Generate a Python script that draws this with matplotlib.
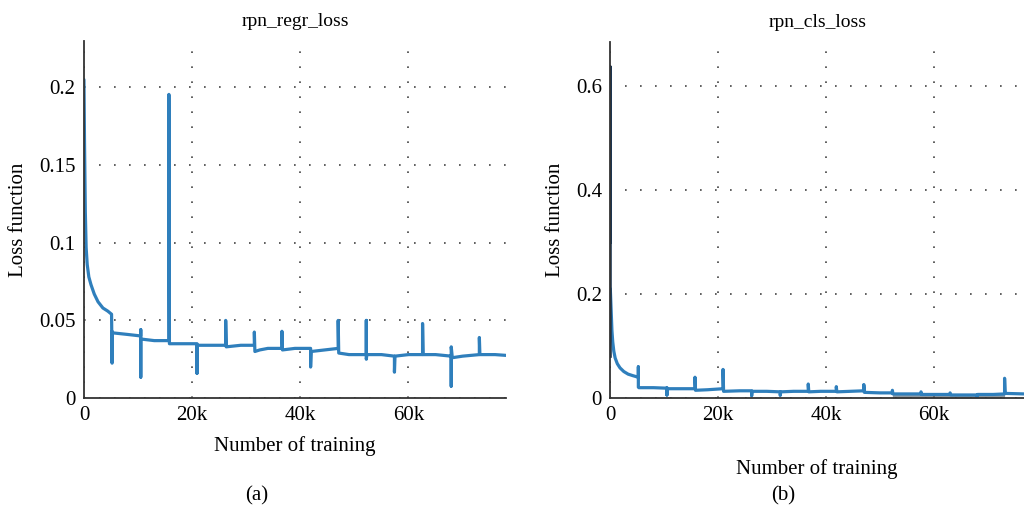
# Training loss curves: rpn_regr_loss and rpn_cls_loss

import matplotlib.pyplot as plt

# -----------------------------------------------
# Data (iterations, loss)
# -----------------------------------------------

regr_steps = [0, 100, 250, 400, 600, 900, 1300, 1900, 2600, 3500, 4400, 5100,
              5200, 5200, 5200, 5300, 8000, 10500,
              10500, 10500, 10500, 10600, 13000, 15700,
              15700, 15800, 18000, 20900,
              20900, 20900, 21000, 24000, 26200,
              26200, 26300, 29000, 31500,
              31500, 31600, 32500, 34000, 36600,
              36600, 36700, 39000, 41900,
              41900, 42000, 44500, 47000,
              47000, 47100, 49000, 52200,
              52200, 52200, 52300, 55000, 57400,
              57400, 57500, 60000, 62600,
              62600, 62700, 65000, 67900,
              67900, 67900, 68100, 70000, 73100,
              73100, 73200, 76000, 78000]
regr_loss = [0.205, 0.165, 0.120, 0.097, 0.086, 0.078, 0.073, 0.067, 0.062, 0.058, 0.056, 0.054,
             0.0225, 0.043, 0.043, 0.042, 0.041, 0.040,
             0.044, 0.0135, 0.038, 0.038, 0.037, 0.037,
             0.1955, 0.035, 0.035, 0.035,
             0.016, 0.034, 0.034, 0.034, 0.034,
             0.050, 0.033, 0.034, 0.034,
             0.0425, 0.030, 0.031, 0.032, 0.032,
             0.043, 0.031, 0.032, 0.032,
             0.020, 0.030, 0.031, 0.032,
             0.050, 0.029, 0.028, 0.028,
             0.050, 0.025, 0.028, 0.028, 0.027,
             0.0167, 0.027, 0.028, 0.028,
             0.048, 0.028, 0.028, 0.027,
             0.0077, 0.033, 0.026, 0.027, 0.028,
             0.039, 0.028, 0.028, 0.0275]

cls_steps = [0, 150, 300, 450, 650, 900, 1300, 1800, 2500, 3300, 4200, 5200,
             5200, 5200, 5300, 8000, 10500,
             10500, 10500, 10600, 13000, 15700,
             15700, 15800, 18000, 20900,
             20900, 21000, 24000, 26200,
             26200, 26300, 29000, 31500,
             31500, 31600, 34000, 36700,
             36700, 36800, 39000, 41900,
             41900, 42000, 44500, 47000,
             47000, 47100, 50000, 52300,
             52300, 52400, 55000, 57600,
             57600, 57700, 60000, 63000,
             63000, 63100, 66000, 68000,
             68000, 68100, 71000, 73100,
             73100, 73200, 76700]
cls_loss = [0.21, 0.17, 0.13, 0.108, 0.090, 0.077, 0.066, 0.058, 0.051, 0.046, 0.043, 0.040,
            0.060, 0.021, 0.020, 0.020, 0.019,
            0.006, 0.020, 0.018, 0.018, 0.018,
            0.040, 0.015, 0.016, 0.018,
            0.055, 0.013, 0.014, 0.014,
            0.004, 0.013, 0.013, 0.012,
            0.005, 0.012, 0.013, 0.013,
            0.027, 0.012, 0.013, 0.013,
            0.022, 0.012, 0.013, 0.014,
            0.026, 0.011, 0.010, 0.010,
            0.015, 0.008, 0.008, 0.008,
            0.012, 0.007, 0.007, 0.007,
            0.010, 0.006, 0.006, 0.006,
            0.002, 0.007, 0.007, 0.008,
            0.038, 0.009, 0.008]

# dark start of the cls curve
cls_start_steps = [0, 0, 0]
cls_start_loss = [0.08, 0.635, 0.30]

# grey band under the cls curve
band_steps = [52300, 57600, 63000, 68000, 73100]
band_low = [0.0, 0.0, 0.0, 0.0, 0.0]
band_high = [0.008, 0.007, 0.006, 0.006, 0.008]

x_ticks = [0, 20000, 40000, 60000]
x_labels = ['0', '20k', '40k', '60k']
regr_ticks = [0, 0.05, 0.1, 0.15, 0.2]
regr_labels = ['0', '0.05', '0.1', '0.15', '0.2']
cls_ticks = [0, 0.2, 0.4, 0.6]
cls_labels = ['0', '0.2', '0.4', '0.6']

# -----------------------------------------------
# Figure
# -----------------------------------------------

plt.rcParams['font.family'] = ['Liberation Serif', 'DejaVu Serif']

line_color = '#2f7fbc'
fig = plt.figure(figsize=(10.24, 5.17), dpi=100)

ax1 = fig.add_axes([0.082, 0.230, 0.412, 0.691])
ax2 = fig.add_axes([0.596, 0.230, 0.404, 0.689])


def style_axes(ax, yticks, ylabels):
    for side in ['top', 'right']:
        ax.spines[side].set_visible(False)
    for side in ['left', 'bottom']:
        ax.spines[side].set_color('#333333')
        ax.spines[side].set_linewidth(1.3)
    ax.set_xticks(x_ticks)
    ax.set_xticklabels(x_labels)
    ax.set_yticks(yticks)
    ax.set_yticklabels(ylabels)
    ax.tick_params(length=0, labelsize=15, pad=6)
    ax.grid(True, color='#444444', linestyle=(0, (1, 8)), linewidth=1.2)
    ax.set_ylabel('Loss function', fontsize=15, labelpad=8)


# left panel
ax1.plot(regr_steps, regr_loss, color=line_color, linewidth=2.3,
         solid_joinstyle='round', solid_capstyle='round')
ax1.set_xlim(0, 78000)
ax1.set_ylim(0, 0.23)
style_axes(ax1, regr_ticks, regr_labels)
ax1.set_title('rpn_regr_loss', fontsize=14, pad=11)
ax1.set_xlabel('Number of training', fontsize=15, labelpad=8)

# right panel
ax2.fill_between(band_steps, band_low, band_high, color='#8e9ba5', linewidth=0)
ax2.plot(cls_steps, cls_loss, color=line_color, linewidth=2.3,
         solid_joinstyle='round', solid_capstyle='round')
ax2.plot(cls_start_steps, cls_start_loss, color='#1c3550', linewidth=2.6)
ax2.set_xlim(0, 76700)
ax2.set_ylim(0, 0.684)
style_axes(ax2, cls_ticks, cls_labels)
ax2.set_title('rpn_cls_loss', fontsize=14, pad=11)
ax2.set_xlabel('Number of training', fontsize=15, labelpad=24)

# panel letters
fig.text(0.251, 0.032, '(a)', fontsize=15, ha='center')
fig.text(0.765, 0.032, '(b)', fontsize=15, ha='center')

plt.savefig('out.png', dpi=100)
